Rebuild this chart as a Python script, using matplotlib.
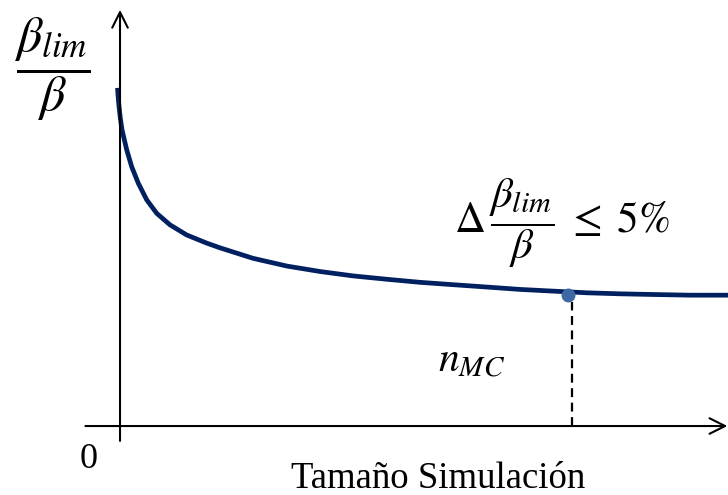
# Convergence of beta_lim/beta with Monte Carlo sample size
import matplotlib
matplotlib.use("Agg")
from matplotlib import pyplot as plt

plt.rcParams['mathtext.fontset'] = 'stix'
plt.rcParams['font.family'] = ['Liberation Serif', 'DejaVu Serif']

# curve: simulation size vs beta_lim / beta
sim_size = [-4.1, -3.3, -1.6, 0.5, 3.3, 11.0, 19.2, 30.1, 43.9, 60.4, 82.2,
            109.7, 142.6, 164.5, 218.8, 274.7, 329.0, 383.2, 439.1, 493.4,
            547.7, 603.6, 657.9, 712.2, 768.1, 822.4, 876.6, 937.5, 1000]
beta_ratio = [1.000, 0.979, 0.944, 0.911, 0.876, 0.817, 0.767, 0.718, 0.669,
              0.629, 0.595, 0.565, 0.541, 0.527, 0.496, 0.473, 0.457, 0.444,
              0.434, 0.425, 0.418, 0.411, 0.404, 0.399, 0.394, 0.391, 0.389,
              0.387, 0.387]

# size at which the change is below 5%
n_mc = 737
n_mc_ratio = 0.387

fig = plt.figure(figsize=(7.28, 4.95), dpi=100)
ax = fig.add_axes([0, 0, 1, 1])
ax.set_xlim(-197.4, 1000)
ax.set_ylim(-0.204, 1.260)
ax.axis('off')

# axes with open arrow heads
arrow = dict(arrowstyle='->', color='black', lw=1.5, mutation_scale=28,
             shrinkA=0, shrinkB=0)
ax.annotate('', xy=(0, 1.231), xytext=(0, -0.044), arrowprops=arrow)
ax.annotate('', xy=(999, 0), xytext=(-57, 0), arrowprops=arrow)

ax.plot(sim_size, beta_ratio, color='#002060', lw=3.4,
        solid_capstyle='butt', solid_joinstyle='round')
ax.plot([n_mc + 7, n_mc + 7], [0, n_mc_ratio - 0.02], color='black', lw=1.6,
        ls=(0, (4, 2.5)))
ax.plot([n_mc], [n_mc_ratio], 'o', color='#3e68a4', ms=9)

ax.text(-112, 1.055, r'$\dfrac{\beta_{lim}}{\beta}$', fontsize=36,
        ha='center', va='center')
ax.text(727, 0.600, r'$\Delta\,\dfrac{\beta_{lim}}{\beta}\;\leq\;5\%$',
        fontsize=31, ha='center', va='center')
ax.text(579, 0.190, r'$n_{MC}$', fontsize=30, ha='center', va='center')
ax.text(-52, -0.10, '0', fontsize=26, ha='center', va='center')
ax.text(523, -0.155, 'Tamaño Simulación', fontsize=26.5, ha='center',
        va='center')

fig.savefig('out.png', dpi=100)
